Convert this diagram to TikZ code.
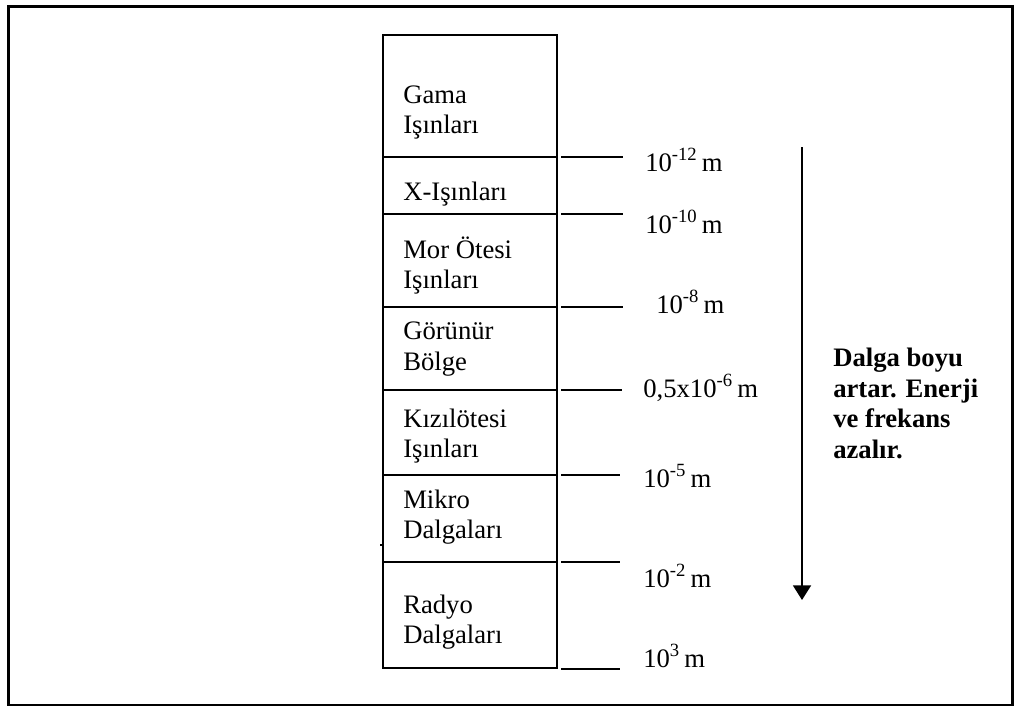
\documentclass[tikz,border=0pt]{standalone}
\usepackage{fontspec}
\setmainfont{Liberation Serif}
\usetikzlibrary{arrows.meta}
\begin{document}
\begin{tikzpicture}[x=0.75pt,y=-0.75pt,
  frame/.style={line width=1.6pt},
  band/.style={line width=1.4pt},
  tick/.style={line width=1.4pt},
  lbl/.style={anchor=base west,inner sep=0pt,font=\fontsize{20pt}{23pt}\selectfont},
  val/.style={anchor=base west,inner sep=0pt,font=\fontsize{20pt}{23pt}\selectfont},
  note/.style={anchor=base west,inner sep=0pt,align=left,font=\fontsize{20pt}{22.8pt}\selectfont\bfseries}]
\useasboundingbox (0,0) rectangle (1016,707);

% outer frame
\draw[frame] (8.5,6.5) rectangle (1012.5,705);

% spectrum column and its band boundaries
\coordinate (ctop) at (383,35);
\coordinate (cbot) at (557,668);
\draw[band] (ctop) rectangle (cbot);
\foreach \yy in {157,214,307,390,475,562}
  \draw[band] (383,\yy) -- (557,\yy);
\draw[line width=1pt] (380,545) -- (383,545);

% wavelength ticks
\foreach \yy/\xe in {157/623,214/623,307/623,390/622,475/620,562/620,669/620}
  \draw[tick] (561,\yy) -- (\xe,\yy);

% band names
\node[lbl] (g1) at (403,103) {Gama};
\node[lbl] (g2) at (403,133) {Işınları};
\node[lbl] (x1) at (403,200) {X-Işınları};
\node[lbl] (u1) at (403,258) {Mor Ötesi};
\node[lbl] (u2) at (403,288) {Işınları};
\node[lbl] (v1) at (403,339) {Görünür};
\node[lbl] (v2) at (403,370) {Bölge};
\node[lbl] (i1) at (403,427) {Kızılötesi};
\node[lbl] (i2) at (403,457) {Işınları};
\node[lbl] (m1) at (403,508) {Mikro};
\node[lbl] (m2) at (403,538) {Dalgaları};
\node[lbl] (r1) at (403,613) {Radyo};
\node[lbl] (r2) at (403,643) {Dalgaları};

% wavelength values
\node[val] (w1) at (645,171) {10\textsuperscript{-12}\,m};
\node[val] (w2) at (645,233) {10\textsuperscript{-10}\,m};
\node[val] (w3) at (656,313) {10\textsuperscript{-8}\,m};
\node[val] (w4) at (643,397) {0,5x10\textsuperscript{-6}\,m};
\node[val] (w5) at (643,487) {10\textsuperscript{-5}\,m};
\node[val] (w6) at (643,587) {10\textsuperscript{-2}\,m};
\node[val] (w7) at (643,667) {10\textsuperscript{3}\,m};

% direction arrow and its note (base anchor sits on the last line)
\coordinate (atop) at (802,147);
\coordinate (abot) at (802,600);
\draw[line width=1.4pt,-{Triangle[width=13.5pt,length=11pt]}] (atop) -- (abot);
\node[note] (nt) at (833,458) {Dalga boyu\\artar. Enerji\\ve frekans\\azalır.};
\end{tikzpicture}
\end{document}
